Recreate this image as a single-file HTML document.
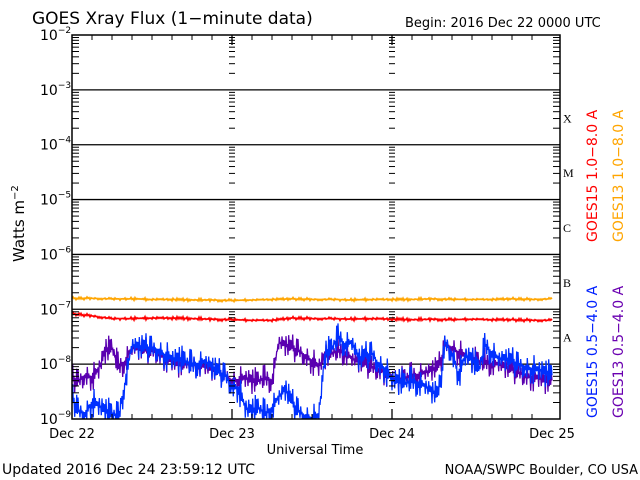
<!DOCTYPE html>
<html><head><meta charset="utf-8"><style>
body{margin:0;background:#fff}
svg{display:block;font-family:"DejaVu Sans","Liberation Sans",sans-serif}
</style></head><body>
<svg id="c" width="640" height="480" viewBox="0 0 640 480">
<rect width="640" height="480" fill="#fff"/>
<defs><clipPath id="pc"><rect x="72" y="35" width="488" height="384"/></clipPath></defs>
<text x="32" y="24" font-size="17">GOES Xray Flux (1−minute data)</text>
<text x="405" y="27" font-size="13">Begin:  2016 Dec 22 0000 UTC</text>
<text x="0" y="0" font-size="15" transform="translate(24,262) rotate(-90)">Watts m<tspan dy="-6" font-size="10">−2</tspan></text>
<text x="315" y="454" font-size="13" text-anchor="middle">Universal Time</text>
<text x="2" y="474" font-size="14">Updated 2016 Dec 24 23:59:12 UTC</text>
<text x="638" y="474" font-size="13" text-anchor="end">NOAA/SWPC Boulder, CO USA</text>
<g id="grid"></g>
<g id="series" clip-path="url(#pc)"></g>
<g id="axes"></g>
<text font-size="14" fill="#f00" transform="translate(597,242) rotate(-90)">GOES15 1.0−8.0 A</text>
<text font-size="14" fill="#ffa500" transform="translate(623,242) rotate(-90)">GOES13 1.0−8.0 A</text>
<text font-size="14" fill="#0020ff" transform="translate(597,418) rotate(-90)">GOES15 0.5−4.0 A</text>
<text font-size="14" fill="#6a00b0" transform="translate(623,418) rotate(-90)">GOES13 0.5−4.0 A</text>
</svg>
<script>
const decadeLabels=[-2,-3,-4,-5,-6,-7,-8,-9];
const flareClasses=["X","M","C","B","A"];
const dayLabels=["Dec 22","Dec 23","Dec 24","Dec 25"];
const purpleC=[-8.25,-8.3,-8.2,-8.25,-8.1,-7.75,-7.7,-8.05,-7.95,-7.7,-7.72,-7.75,-7.75,-7.8,-7.9,-7.95,-8.0,-8.0,-8.0,-8.02,-8.05,-8.1,-8.15,-8.2,
-8.3,-8.3,-8.25,-8.3,-8.3,-8.25,-8.3,-7.6,-7.65,-7.7,-7.75,-7.85,-7.95,-8.05,-7.85,-7.8,-7.75,-7.8,-7.9,-7.95,-8.0,-8.05,-8.1,-8.15,
-8.25,-8.3,-8.25,-8.2,-8.2,-8.15,-8.1,-8.05,-7.65,-7.7,-7.8,-7.85,-7.9,-7.95,-7.95,-8.0,-8.0,-8.05,-8.1,-8.15,-8.2,-8.25,-8.25,-8.3,-8.3];
const blueC=[-8.6,-8.85,-8.9,-8.7,-8.75,-8.85,-8.9,-8.95,-8.3,-7.65,-7.68,-7.7,-7.7,-7.75,-7.85,-7.9,-7.9,-7.95,-8.0,-8.0,-7.95,-8.05,-8.15,-8.2,
-8.4,-8.45,-8.8,-8.85,-8.8,-8.9,-8.8,-8.6,-8.45,-8.7,-8.85,-8.95,-9.0,-8.95,-7.8,-7.7,-7.5,-7.65,-7.6,-7.9,-7.85,-7.8,-8.0,-8.1,
-8.3,-8.3,-8.35,-8.3,-8.35,-8.4,-8.5,-8.55,-7.6,-7.8,-8.2,-7.85,-7.9,-8.1,-7.65,-7.8,-7.9,-7.9,-7.95,-8.0,-8.05,-8.1,-8.1,-8.15,-8.2];
const redC=[-7.08,-7.12,-7.17,-7.17,-7.16,-7.16,-7.17,-7.18,-7.19,-7.2,-7.2,-7.16,-7.17,-7.17,-7.18,-7.17,-7.18,-7.19,-7.18,-7.19,-7.18,-7.19,-7.19,-7.2,-7.2];
const orangeC=[-6.8,-6.8,-6.81,-6.81,-6.82,-6.82,-6.83,-6.83,-6.84,-6.83,-6.82,-6.81,-6.82,-6.82,-6.83,-6.82,-6.82,-6.82,-6.81,-6.82,-6.82,-6.82,-6.81,-6.82,-6.81];

const NS="http://www.w3.org/2000/svg";
const X0=72,X1=560,Y0=35,Y1=419,DAY=160;
const xs=h=>X0+h*DAY/24;
const ys=l=>Y0+(-2-l)*(Y1-Y0)/7;
function mk(tag,at,parent){const e=document.createElementNS(NS,tag);for(const k in at)e.setAttribute(k,at[k]);parent.appendChild(e);return e;}
const grid=document.getElementById('grid'),axes=document.getElementById('axes'),ser=document.getElementById('series');

decadeLabels.forEach((d,i)=>{
  const y=ys(d);
  if(d<-2&&d>-9){const l=mk('line',{x1:X0,x2:X1,y1:y,y2:y,stroke:'#000','stroke-width':1.3},grid);
    
    }
  const t=mk('text',{x:40,y:y+5,'font-size':14},axes);
  
  
  t.textContent='10';
  const s=mk('tspan',{dy:-7,'font-size':9},t);s.textContent='−'+(-d);
  if(d>-9){for(let m=2;m<=9;m++){const yy=ys(d-1+Math.log10(m));
    [[X0,X0+7],[X1-7,X1],[xs(24)-3,xs(24)+3],[xs(48)-3,xs(48)+3]].forEach(p=>{
      mk('line',{x1:p[0],x2:p[1],y1:yy,y2:yy,stroke:'#000','stroke-width':1},axes);});}}
});
flareClasses.forEach((c,i)=>{
  const t=mk('text',{x:563,y:ys(-3.5-i)+5,'font-size':12,'font-family':'Liberation Serif, serif'},axes);
  
  
  t.textContent=c;
});
dayLabels.forEach((d,i)=>{
  const x=xs(i*24);
  if(i==1||i==2){
    mk('line',{x1:x,x2:x,y1:Y1-10,y2:Y1,stroke:'#000','stroke-width':1.3},axes);
    mk('line',{x1:x,x2:x,y1:Y0,y2:Y0+10,stroke:'#000','stroke-width':1.3},axes);}
  const t=mk('text',{x:Math.min(x,558),y:438,'font-size':13,'text-anchor':'middle'},axes);
  
  
  t.textContent=d;
});
for(let h=3;h<72;h+=3){if(h%24==0)continue;const x=xs(h);
  mk('line',{x1:x,x2:x,y1:Y0,y2:Y0+5,stroke:'#000'},axes);
  mk('line',{x1:x,x2:x,y1:Y1,y2:Y1-5,stroke:'#000'},axes);}
const frame=mk('rect',{x:X0,y:Y0,width:X1-X0,height:Y1-Y0,fill:'none',stroke:'#000','stroke-width':1.5},axes);



function series(vals,step,amp,color,name,w,sub){
  let pts=[];
  for(let i=0;i<vals.length-1;i++){for(let k=0;k<sub;k++){const f=k/sub;
    const j=((k*7+i*13+k*k*3)%11)/10;
    const v=vals[i]+(vals[i+1]-vals[i])*f+((k%2)?amp:-amp)*(j*j*1.6+0.15);
    pts.push(xs((i+f)*step).toFixed(1)+','+ys(v).toFixed(1));}}
  pts.push(xs((vals.length-1)*step).toFixed(1)+','+ys(vals[vals.length-1]).toFixed(1));
  const p=mk('polyline',{points:pts.join(' '),fill:'none',stroke:color,'stroke-width':w,'stroke-linejoin':'miter'},ser);
  
  
}
series(orangeC,3,0.014,'#ffa500','goes13-long-line',1.6,20);
series(redC,3,0.016,'#ff0000','goes15-long-line',1.6,20);
series(purpleC,1,0.14,'#5a00b0','goes13-short-line',1.3,10);
series(blueC,1,0.15,'#0030ff','goes15-short-line',1.3,10);
</script>
</body></html>
